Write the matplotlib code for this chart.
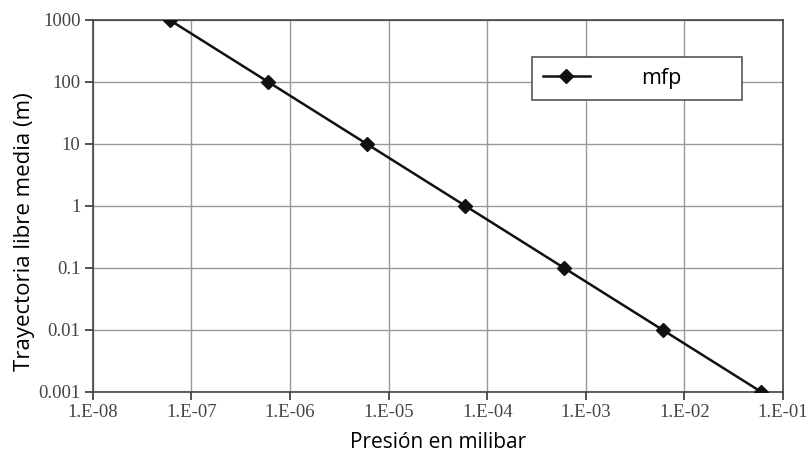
import matplotlib
matplotlib.use("Agg")
import matplotlib.pyplot as plt
from matplotlib.ticker import FixedLocator, NullLocator

# datos: presion (mbar) y trayectoria libre media (m)
presion = [6e-8, 6e-7, 6e-6, 6e-5, 6e-4, 6e-3, 6e-2]
mfp = [1000, 100, 10, 1, 0.1, 0.01, 0.001]

x_ticks = [1e-8, 1e-7, 1e-6, 1e-5, 1e-4, 1e-3, 1e-2, 1e-1]
x_labels = ["1.E-08", "1.E-07", "1.E-06", "1.E-05", "1.E-04", "1.E-03", "1.E-02", "1.E-01"]
y_ticks = [0.001, 0.01, 0.1, 1, 10, 100, 1000]
y_labels = ["0.001", "0.01", "0.1", "1", "10", "100", "1000"]

fig = plt.figure(figsize=(8.08, 4.54), dpi=100)
ax = fig.add_axes([0.115, 0.137, 0.854, 0.819])

ax.plot(presion, mfp, color="#111111", lw=1.8, marker="D", ms=7, label="mfp", zorder=3)

ax.set_xscale("log")
ax.set_yscale("log")
ax.set_xlim(1e-8, 1e-1)
ax.set_ylim(1e-3, 1e3)

ax.xaxis.set_major_locator(FixedLocator(x_ticks))
ax.yaxis.set_major_locator(FixedLocator(y_ticks))
ax.xaxis.set_minor_locator(NullLocator())
ax.yaxis.set_minor_locator(NullLocator())
ax.set_xticklabels(x_labels, family="Liberation Serif", fontsize=13.5, color="#444444")
ax.set_yticklabels(y_labels, family="Liberation Serif", fontsize=13.5, color="#444444")
ax.tick_params(length=6, width=1.2, color="#333333", pad=3)

ax.grid(True, color="#999999", lw=1)
for s in ax.spines.values():
    s.set_color("#444444")
    s.set_linewidth(1.2)

ax.set_xlabel("Presión en milibar", family="Open Sans", fontsize=15, labelpad=8)
ax.set_ylabel("Trayectoria libre media (m)", family="Open Sans", fontsize=16)
ax.yaxis.set_label_coords(-0.084, 0.43)

leg = ax.legend(loc="upper left", bbox_to_anchor=(0.636, 0.79, 0.304, 0.11), mode="expand",
                borderaxespad=0, prop={"family": "Open Sans", "size": 15.5}, fancybox=False,
                framealpha=1, edgecolor="#555555", borderpad=0.5, handlelength=2.2,
                handletextpad=2.4)
leg.get_frame().set_linewidth(1.2)

fig.savefig("out.png")
